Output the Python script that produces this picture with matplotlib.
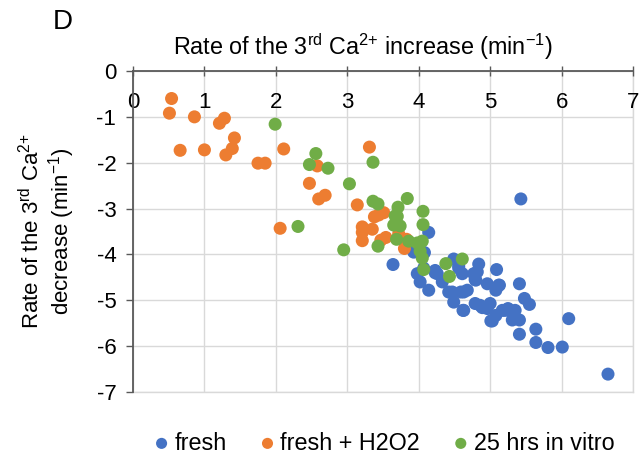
import matplotlib
matplotlib.use("Agg")
import matplotlib.pyplot as plt

plt.rcParams['font.family'] = ['Liberation Sans', 'DejaVu Sans']
plt.rcParams['mathtext.fontset'] = 'custom'
plt.rcParams['mathtext.rm'] = 'Liberation Sans'
plt.rcParams['mathtext.it'] = 'Liberation Sans:italic'
plt.rcParams['axes.unicode_minus'] = False

# Rate of the 3rd Ca2+ increase (x) and decrease (y), min^-1
fresh_x = [5.43, 4.14, 3.64, 3.93, 4.08, 3.98, 4.02, 4.14, 4.23, 4.33,
           4.49, 4.56, 4.61, 4.42, 4.49, 4.63, 4.68, 4.63, 4.82, 4.77,
           4.84, 4.80, 4.96, 5.09, 5.12, 5.08, 4.79, 4.86, 5.00, 4.96,
           5.03, 5.21, 5.25, 5.35, 5.35, 5.41, 5.48, 5.55, 5.17, 5.08,
           4.89, 5.31, 5.41, 5.41, 5.64, 5.64, 5.81, 6.01, 6.10, 6.65,
           4.23, 4.07, 4.56, 4.26, 4.59, 4.62, 4.47, 5.01, 5.13, 4.79]
fresh_y = [-2.79, -3.52, -4.22, -3.95, -3.96, -4.42, -4.60, -4.78, -4.40, -4.60,
           -4.10, -4.30, -4.42, -4.82, -5.04, -4.82, -4.78, -5.22, -4.38, -4.42,
           -4.21, -4.56, -4.64, -4.33, -4.67, -4.78, -5.07, -5.11, -5.07, -5.18,
           -5.45, -5.22, -5.18, -5.22, -5.40, -4.64, -4.96, -5.09, -5.22, -5.33,
           -5.16, -5.43, -5.43, -5.74, -5.63, -5.92, -6.03, -6.02, -5.40, -6.61,
           -4.35, -4.30, -4.25, -4.42, -4.82, -5.22, -4.82, -5.45, -4.67, -4.55]

h2o2_x = [0.54, 0.51, 0.86, 1.28, 1.21, 1.42, 1.39, 1.30, 0.66, 1.00,
          2.11, 1.75, 1.85, 2.58, 2.47, 2.60, 2.69, 2.06, 3.31, 3.14,
          3.21, 3.21, 3.35, 3.21, 3.44, 3.51, 3.47, 3.54, 3.38, 3.83,
          3.80, 3.72]
h2o2_y = [-0.60, -0.92, -1.00, -1.03, -1.14, -1.46, -1.69, -1.83, -1.73, -1.72,
          -1.70, -2.01, -2.01, -2.07, -2.45, -2.79, -2.71, -3.43, -1.66, -2.92,
          -3.40, -3.52, -3.45, -3.70, -3.14, -3.09, -3.69, -3.63, -3.18, -3.67,
          -3.87, -3.55]

vitro_x = [1.99, 2.56, 2.47, 2.73, 3.03, 2.31, 2.95, 3.36, 3.36, 3.43,
           3.43, 3.84, 3.71, 4.06, 3.70, 4.06, 3.65, 3.74, 3.69, 3.86,
           3.98, 4.05, 4.02, 4.05, 4.07, 4.38, 4.61, 4.43, 3.67]
vitro_y = [-1.16, -1.80, -2.04, -2.12, -2.46, -3.39, -3.90, -1.99, -2.84, -2.90,
           -3.82, -2.78, -2.97, -3.06, -3.17, -3.35, -3.36, -3.38, -3.67, -3.71,
           -3.75, -3.71, -3.93, -4.08, -4.33, -4.20, -4.10, -4.48, -3.16]

series_names = ["fresh", "fresh + H2O2", "25 hrs in vitro"]
series_colors = ["#4472C4", "#ED7D31", "#70AD47"]

x_ticks = [0, 1, 2, 3, 4, 5, 6, 7]
y_ticks = [0, -1, -2, -3, -4, -5, -6, -7]

W, H = 643, 454
FS = 16
FS_TEXT = 16.8
fig = plt.figure(figsize=(W / 100, H / 100), dpi=100)
ax = fig.add_axes([133 / W, 1 - 392 / H, 500 / W, 321 / H])

grid_col = "#D9D9D9"
axis_col = "#595959"

for xs, ys, name, col in zip([fresh_x, h2o2_x, vitro_x],
                             [fresh_y, h2o2_y, vitro_y],
                             series_names, series_colors):
    ax.scatter(xs, ys, s=88, color=col, edgecolors='none', label=name,
               zorder=3, clip_on=False)

ax.set_xlim(0, 7)
ax.set_ylim(-7, 0)
ax.set_xticks(x_ticks)
ax.set_yticks(y_ticks)
ax.set_xticklabels([str(v) for v in x_ticks])
ax.set_yticklabels([str(v) for v in y_ticks])

ax.set_axisbelow(True)
ax.grid(True, color=grid_col, linewidth=1.0)

for side in ("right", "bottom"):
    ax.spines[side].set_color(grid_col)
    ax.spines[side].set_linewidth(1.0)
    ax.spines[side].set_zorder(0.3)
for side in ("left", "top"):
    ax.spines[side].set_color(axis_col)
    ax.spines[side].set_linewidth(1.3)

ax.xaxis.set_ticks_position('top')
ax.tick_params(axis='x', which='major', top=True, bottom=False,
               labeltop=True, labelbottom=False, direction='inout',
               length=7, width=1.0, color=axis_col, labelsize=FS,
               pad=-34, labelcolor='black')
ax.tick_params(axis='y', which='major', direction='out', length=5,
               width=1.0, color=axis_col, labelsize=FS, pad=7,
               labelcolor='black')

fig.text(363 / W, 1 - 47 / H,
         r'Rate of the 3$^{\mathrm{rd}}$ Ca$^{\mathrm{2{+}}}$ increase (min$^{\mathrm{-1}}$)',
         ha='center', va='center', fontsize=FS_TEXT)
fig.text(48 / W, 1 - 231 / H,
         'Rate of the 3$^{\\mathrm{rd}}$ Ca$^{\\mathrm{2{+}}}$\ndecrease (min$^{\\mathrm{-1}}$)',
         ha='center', va='center', rotation=90, fontsize=FS,
         multialignment='center', linespacing=1.05)
fig.text(63 / W, 1 - 22 / H, 'D', ha='center', va='center', fontsize=20)

handles, labels = ax.get_legend_handles_labels()
leg = fig.legend(handles, labels, loc='center', ncol=3,
                 bbox_to_anchor=(385 / W, 1 - 443 / H), frameon=False,
                 fontsize=FS_TEXT, handlelength=0.5, handletextpad=0.3,
                 columnspacing=1.5, markerscale=0.85, borderaxespad=0)

fig.savefig("out.png", dpi=100)
